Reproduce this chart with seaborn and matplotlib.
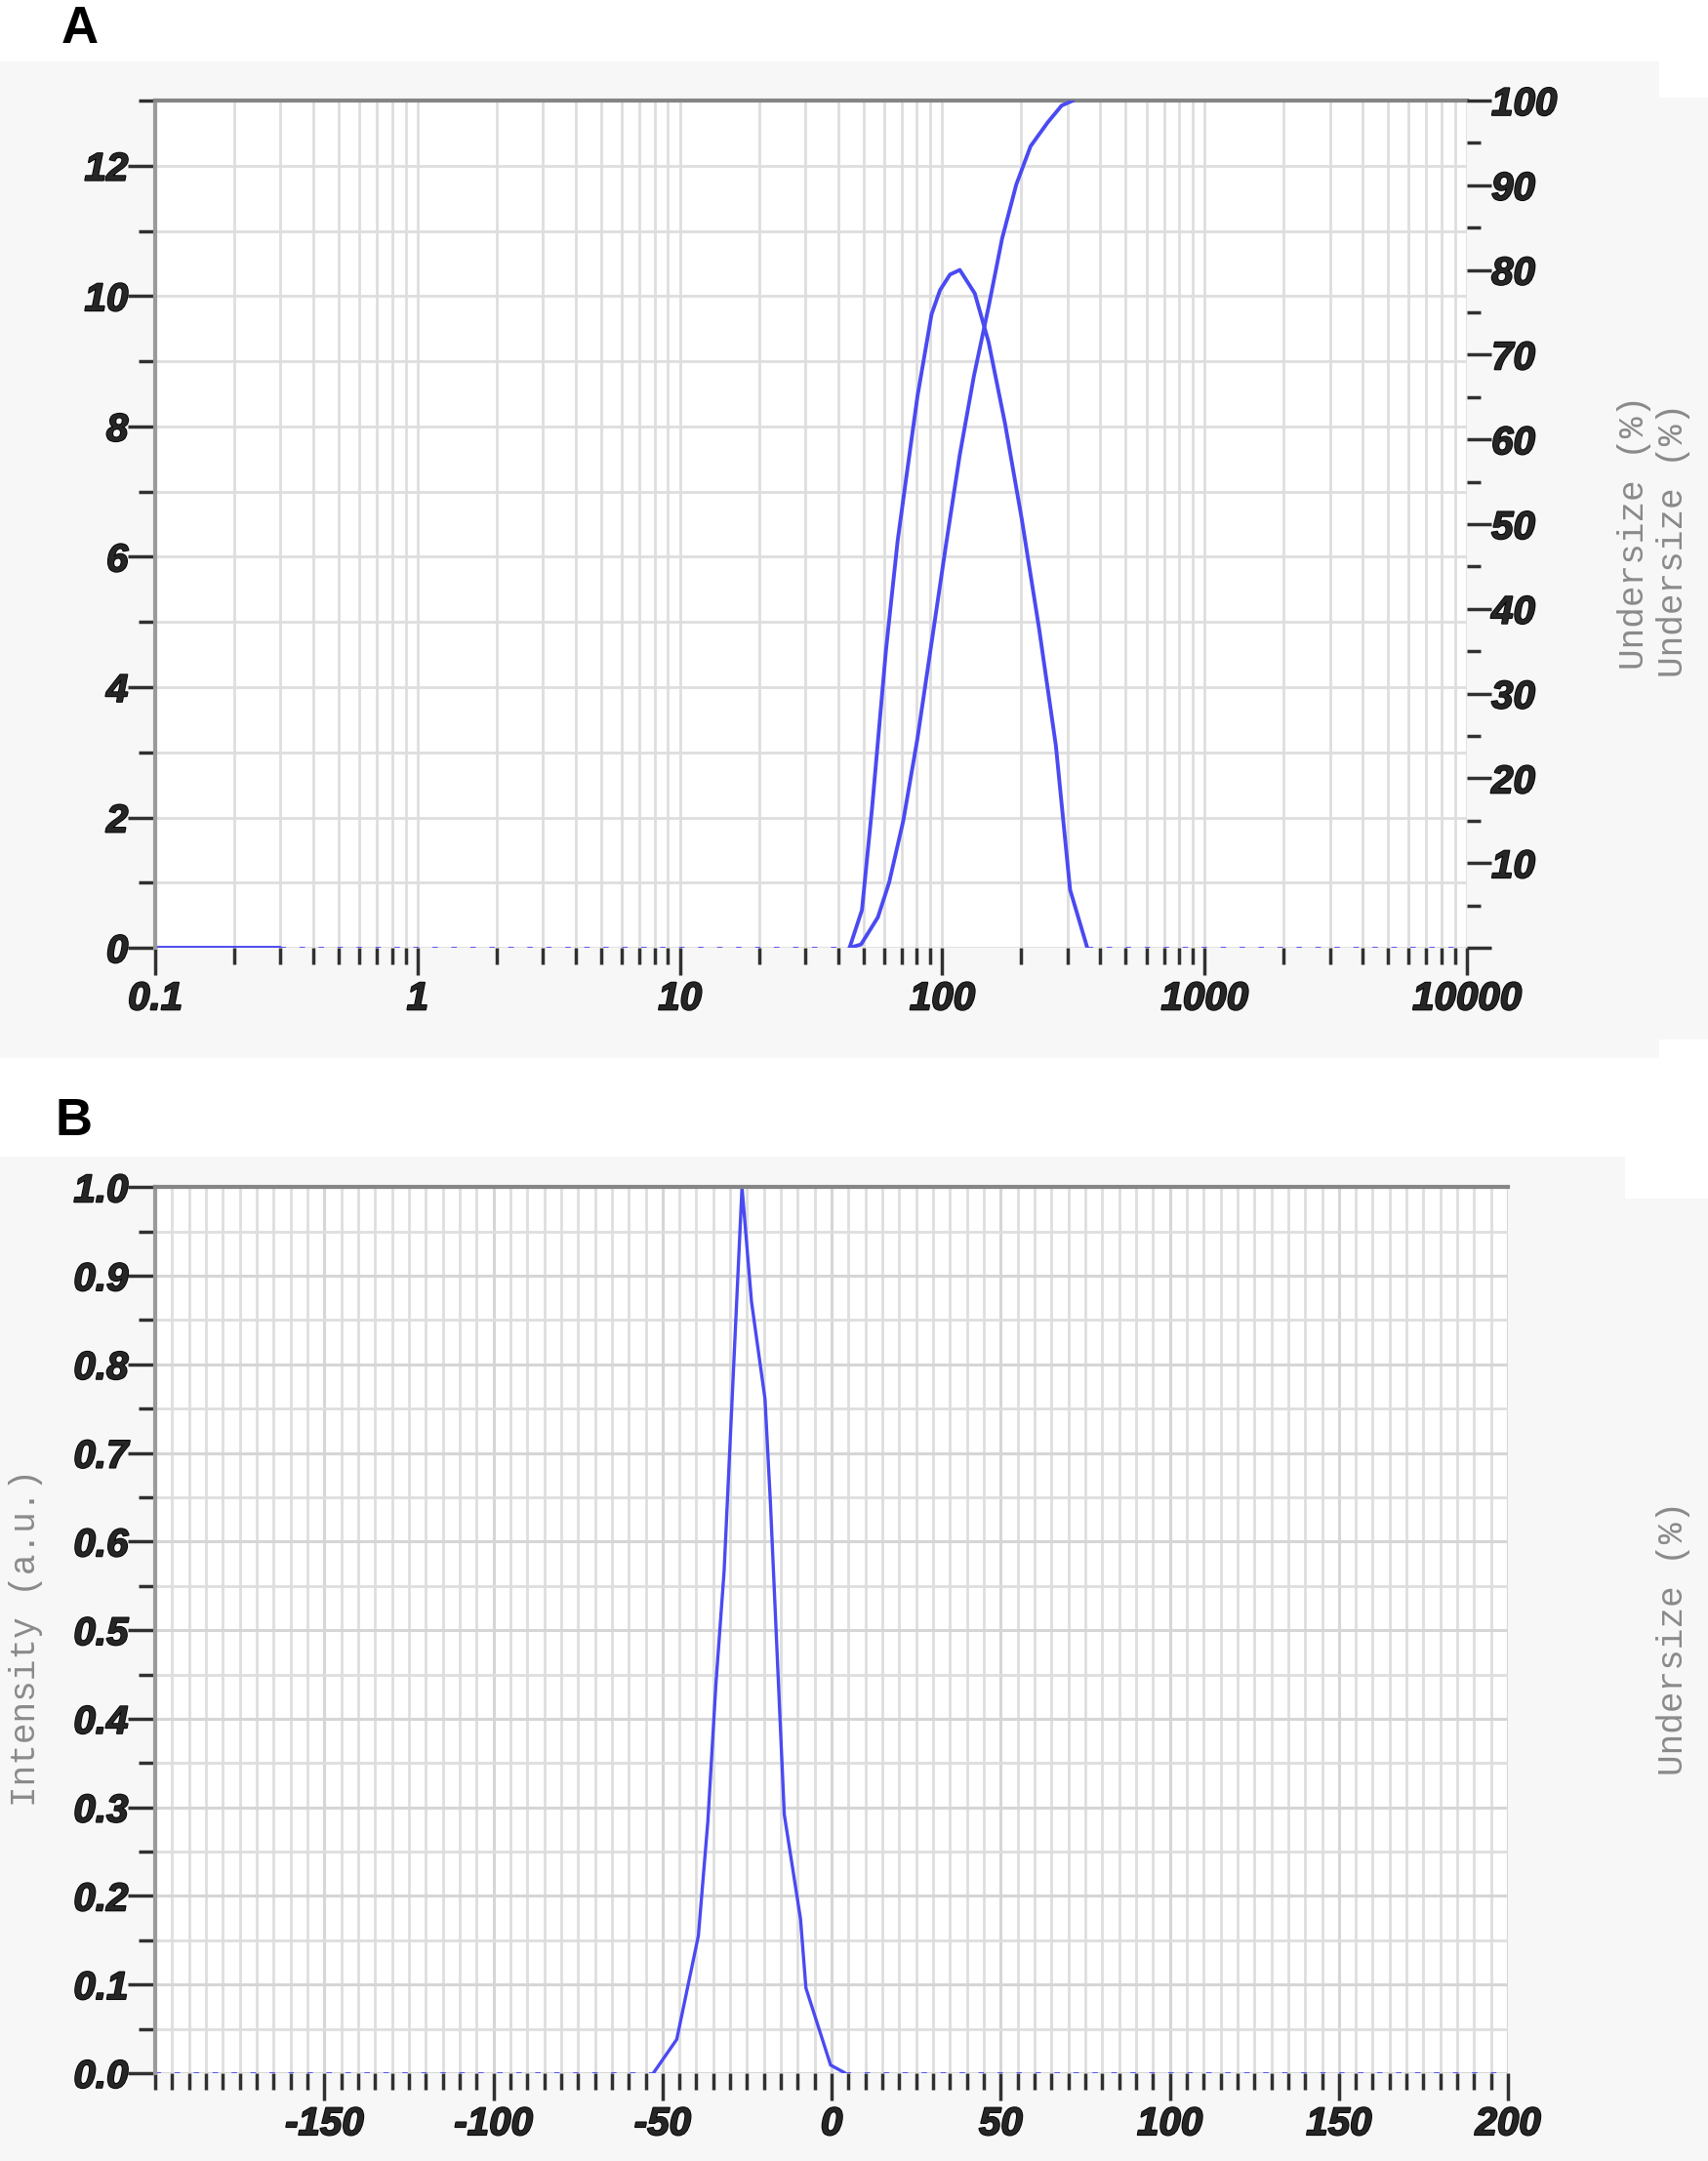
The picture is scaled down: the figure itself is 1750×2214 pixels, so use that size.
import seaborn as sns
import matplotlib.pyplot as plt
import matplotlib.ticker as mticker
import matplotlib.patheffects as pe
from matplotlib.patches import Rectangle
import numpy as np

# %% Data read off the reference
# Panel A - size distribution (left axis) and cumulative undersize (right axis)
size_zero_solid = [0.1, 0.2, 0.3]
q_zero_solid = [0, 0, 0]
size_dist = [44.3, 49.4, 54, 61, 67.6, 72.8, 80.4, 91, 98, 107, 116.6,
             133, 150, 173.5, 201, 234, 271, 307, 357]
q_dist = [0, 0.58, 2.15, 4.57, 6.25, 7.2, 8.46, 9.72, 10.09, 10.33, 10.4,
          10.04, 9.3, 8.04, 6.57, 4.89, 3.1, 0.89, 0]
size_cum = [44.3, 49, 56.8, 62.7, 71, 80.4, 91, 103, 116.6, 132, 150,
            169, 191.5, 217, 252, 285, 315]
undersize_cum = [0, 0.4, 3.6, 7.7, 15, 24.7, 36, 47.3, 58.2, 67.5, 75.6,
                 83.7, 90.1, 94.6, 97.4, 99.4, 100]
base_a_left = [0.3, 44.3]
base_a_right = [357, 10000]

size_ticks = [0.1, 1, 10, 100, 1000, 10000]
size_labels = ['0.1', '1', '10', '100', '1000', '10000']
q_ticks = [0, 2, 4, 6, 8, 10, 12]
pct_ticks = [0, 10, 20, 30, 40, 50, 60, 70, 80, 90, 100]
pct_labels = ['', '10', '20', '30', '40', '50', '60', '70', '80', '90', '100']

# Panel B - intensity curve
zeta = [-52.7, -45.8, -39.4, -36.6, -34.2, -31.8, -29.7, -26.5, -23.7,
        -19.7, -18.1, -14.0, -9.2, -7.6, -0.3, 4.0]
intensity = [0, 0.038, 0.155, 0.284, 0.44, 0.566, 0.738, 1.0, 0.871,
             0.761, 0.644, 0.292, 0.174, 0.096, 0.009, 0]
base_b_left = [-200, -52.7]
base_b_right = [4.0, 200]
zeta_ticks = [-150, -100, -50, 0, 50, 100, 150, 200]
int_ticks = np.round(np.arange(0, 1.01, 0.1), 1)

# %% Style
sns.set_style('white')
plt.rcParams['font.family'] = ['Liberation Sans', 'DejaVu Sans']
plt.rcParams['font.weight'] = 'bold'
plt.rcParams['font.style'] = 'italic'
plt.rcParams['axes.unicode_minus'] = False

line_col = '#4a4af2'
grid_col = '#dedede'
tick_col = '#303030'
tick_size = 29
heavy = [pe.withStroke(linewidth=1.3, foreground='black')]
lab_font = dict(family='Liberation Mono', fontweight='normal',
                fontstyle='normal', color='#8a8a8a', fontsize=26)

fig = plt.figure(figsize=(17.5, 22.14), dpi=100)
fig.patch.set_facecolor('white')

# light gray panels behind each chart (fig pixel coords -> fractions)
W, H = 1750, 2214
for x0, y0, x1, y1 in [(0, 63, 1700, 1084), (1700, 100, 1750, 1065),
                       (0, 1185, 1665, 2214), (1665, 1228, 1750, 2214)]:
    fig.patches.append(Rectangle((x0 / W, 1 - y1 / H), (x1 - x0) / W,
                                 (y1 - y0) / H, transform=fig.transFigure,
                                 facecolor='#f7f7f7', edgecolor='none',
                                 zorder=-10))


def heavy_labels(a):
    for lbl in a.get_xticklabels() + a.get_yticklabels():
        lbl.set_path_effects(heavy)


# %% Panel A
ax = fig.add_axes([0.0909, 0.5614, 0.7680, 0.3921])
ax.set_facecolor('white')
ax.set_xscale('log')
sns.lineplot(x=size_zero_solid, y=q_zero_solid, ax=ax, color=line_col,
             linewidth=2.8, estimator=None)
sns.lineplot(x=size_dist, y=q_dist, ax=ax, color=line_col, linewidth=2.8,
             estimator=None, sort=False)
for bx in (base_a_left, base_a_right):
    sns.lineplot(x=bx, y=[0, 0], ax=ax, color=line_col, linewidth=2,
                 linestyle=(0, (2, 5)), estimator=None)
ax.set_xlim(0.1, 10000)
ax.set_ylim(0, 13)

ax.xaxis.set_major_locator(mticker.FixedLocator(size_ticks))
ax.xaxis.set_major_formatter(mticker.FixedFormatter(size_labels))
ax.xaxis.set_minor_locator(mticker.LogLocator(base=10, subs=np.arange(2, 10)))
ax.xaxis.set_minor_formatter(mticker.NullFormatter())
ax.yaxis.set_major_locator(mticker.FixedLocator(q_ticks))
ax.yaxis.set_minor_locator(mticker.MultipleLocator(1))
ax.grid(which='both', color=grid_col, linewidth=2)
ax.set_axisbelow(True)

ax.tick_params(axis='both', which='major', direction='out', length=20,
               width=2.5, color=tick_col, labelsize=tick_size)
ax.tick_params(axis='y', which='major', pad=0)
ax.tick_params(axis='x', which='major', pad=4)
ax.tick_params(axis='both', which='minor', direction='out', length=12,
               width=2.5, color=tick_col)
ax.tick_params(axis='y', which='both', left=True)
ax.tick_params(axis='x', which='both', bottom=True)

for side in ['bottom', 'right']:
    ax.spines[side].set_visible(False)
ax.spines['left'].set_color('#9a9a9a')
ax.spines['left'].set_linewidth(3)
ax.spines['top'].set_color('#858585')
ax.spines['top'].set_linewidth(3)
heavy_labels(ax)

ax2 = ax.twinx()
sns.lineplot(x=size_cum, y=undersize_cum, ax=ax2, color=line_col,
             linewidth=2.8, estimator=None, sort=False)
ax2.set_ylim(0, 100)
ax2.yaxis.set_major_locator(mticker.FixedLocator(pct_ticks))
ax2.yaxis.set_major_formatter(mticker.FixedFormatter(pct_labels))
ax2.yaxis.set_minor_locator(mticker.MultipleLocator(5))
ax2.tick_params(axis='y', which='major', direction='out', length=18,
                width=2.5, color=tick_col, labelsize=tick_size, pad=0)
ax2.tick_params(axis='y', which='minor', direction='out', length=10,
                width=2.5, color=tick_col)
ax2.set_ylabel('')
for side in ['bottom', 'right', 'left', 'top']:
    ax2.spines[side].set_visible(False)
heavy_labels(ax2)

fig.text(1675 / W, 1 - 545 / H, 'Undersize (%)', rotation=90,
         ha='center', va='center', **lab_font)
fig.text(1714 / W, 1 - 553 / H, 'Undersize (%)', rotation=90,
         ha='center', va='center', **lab_font)
fig.text(0.036, 0.9864, 'A', fontsize=38, fontweight='bold',
         fontstyle='normal', va='center', ha='left', color='black')

# %% Panel B
bx_ax = fig.add_axes([0.0909, 0.0407, 0.7920, 0.4099])
bx_ax.set_facecolor('white')
sns.lineplot(x=zeta, y=intensity, ax=bx_ax, color=line_col, linewidth=2.4,
             estimator=None, sort=False)
for bx in (base_b_left, base_b_right):
    sns.lineplot(x=bx, y=[0, 0], ax=bx_ax, color=line_col, linewidth=2,
                 linestyle=(0, (2, 5)), estimator=None)
bx_ax.set_xlim(-200, 200)
bx_ax.set_ylim(0, 1.0)
bx_ax.xaxis.set_major_locator(mticker.FixedLocator(zeta_ticks))
bx_ax.xaxis.set_minor_locator(mticker.MultipleLocator(5))
bx_ax.yaxis.set_major_locator(mticker.FixedLocator(int_ticks))
bx_ax.yaxis.set_major_formatter(mticker.FormatStrFormatter('%.1f'))
bx_ax.yaxis.set_minor_locator(mticker.MultipleLocator(0.05))
bx_ax.grid(which='major', color='#d6d6d6', linewidth=2.2)
bx_ax.grid(which='minor', color=grid_col, linewidth=2)
bx_ax.set_axisbelow(True)
bx_ax.tick_params(axis='both', which='major', direction='out', length=20,
                  width=2.5, color=tick_col, labelsize=tick_size)
bx_ax.tick_params(axis='y', which='major', pad=0)
bx_ax.tick_params(axis='x', which='major', pad=4)
bx_ax.tick_params(axis='both', which='minor', direction='out', length=12,
                  width=2.5, color=tick_col)
bx_ax.tick_params(axis='y', which='both', left=True)
bx_ax.tick_params(axis='x', which='both', bottom=True)
for side in ['bottom', 'right']:
    bx_ax.spines[side].set_visible(False)
bx_ax.spines['left'].set_color('#9a9a9a')
bx_ax.spines['left'].set_linewidth(3)
bx_ax.spines['top'].set_color('#858585')
bx_ax.spines['top'].set_linewidth(3)
heavy_labels(bx_ax)

fig.text(27 / W, 1 - 1678 / H, 'Intensity (a.u.)', rotation=90,
         ha='center', va='center', **lab_font)
fig.text(1714 / W, 1 - 1678 / H, 'Undersize (%)', rotation=90,
         ha='center', va='center', **lab_font)
fig.text(0.032, 0.481, 'B', fontsize=38, fontweight='bold',
         fontstyle='normal', va='center', ha='left', color='black')

fig.savefig('out.png', dpi=100, facecolor=fig.get_facecolor())
